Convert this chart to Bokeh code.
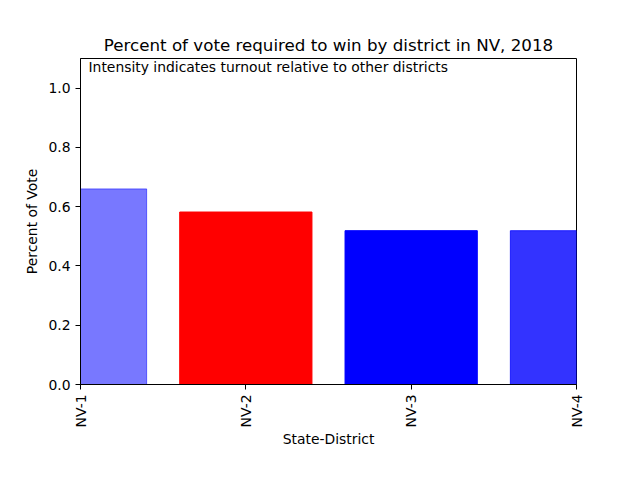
from bokeh.plotting import figure
from bokeh.models import Range1d, FixedTicker, Label, ColumnDataSource
from bokeh.embed import file_html
from bokeh.resources import INLINE
import math

districts = ["NV-1", "NV-2", "NV-3", "NV-4"]
pct_vote = [0.66, 0.582, 0.519, 0.519]
party_color = ["blue", "red", "blue", "blue"]
intensity = [0.53, 1.0, 1.0, 0.8]

xs = list(range(len(districts)))
src = ColumnDataSource(dict(x=xs, top=pct_vote, color=party_color, alpha=intensity))

p = figure(width=624, height=464, output_backend="svg", toolbar_location=None,
           x_range=Range1d(0, len(districts) - 1), y_range=Range1d(0, 1.1),
           min_border_left=80, min_border_right=48, min_border_top=58, min_border_bottom=80)

p.vbar(x="x", top="top", bottom=0, width=0.8, source=src,
       fill_color="color", fill_alpha="alpha", line_color="color", line_alpha="alpha", line_width=1)

p.title.text = "Percent of vote required to win by district in NV, 2018"
p.title.align = "center"
p.title.text_font = "DejaVu Sans"
p.title.text_font_size = "16.7px"
p.title.text_font_style = "normal"
p.title.text_color = "black"
p.title.standoff = 8

p.xgrid.visible = False
p.ygrid.visible = False
p.outline_line_color = "black"
p.outline_line_width = 1
p.outline_line_alpha = 1

for ax in (p.xaxis[0], p.yaxis[0]):
    ax.major_label_text_font = "DejaVu Sans"
    ax.major_label_text_font_size = "13.9px"
    ax.axis_label_text_font = "DejaVu Sans"
    ax.axis_label_text_font_size = "13.9px"
    ax.axis_label_text_font_style = "normal"
    ax.minor_tick_line_color = None
    ax.major_tick_out = 5
    ax.major_tick_in = 0
    ax.axis_line_color = "black"
    ax.major_label_text_color = "black"
    ax.axis_label_text_color = "black"

p.xaxis.ticker = FixedTicker(ticks=xs)
p.xaxis.major_label_overrides = {i: d for i, d in enumerate(districts)}
p.xaxis.major_label_orientation = math.pi / 2
p.xaxis.axis_label = "State-District"
p.xaxis.axis_label_standoff = 1

p.yaxis.ticker = FixedTicker(ticks=[0.0, 0.2, 0.4, 0.6, 0.8, 1.0])
p.yaxis.major_label_overrides = {0.0: "0.0", 0.2: "0.2", 0.4: "0.4", 0.6: "0.6", 0.8: "0.8", 1.0: "1.0"}
p.yaxis.axis_label = "Percent of Vote"
p.yaxis.axis_label_standoff = 5

note = Label(x=8, y=326 - 16, x_units="screen", y_units="screen",
             text="Intensity indicates turnout relative to other districts",
             text_font="DejaVu Sans", text_font_size="13.9px", text_color="black",
             text_baseline="bottom")
p.add_layout(note)

open("out.html", "w").write(file_html(p, INLINE))
